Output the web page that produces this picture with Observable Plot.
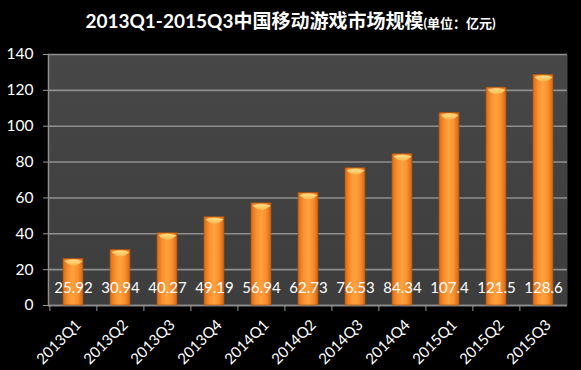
<!DOCTYPE html>
<html><head><meta charset="utf-8">
<script src="https://cdn.jsdelivr.net/npm/d3@7"></script>
<script src="https://cdn.jsdelivr.net/npm/@observablehq/plot@0.6"></script>
<style>
html,body{margin:0;padding:0;background:#000;}
body{width:581px;height:370px;overflow:hidden;}
#title{height:40px;line-height:42px;text-align:center;color:#fff;font-weight:bold;font-family:Lato,"Noto Sans CJK SC",sans-serif;font-size:19px;white-space:nowrap;}
#title span{font-size:13px;}
#chart svg{display:block;}
</style></head><body>
<div id="title">2013Q1-2015Q3中国移动游戏市场规模<span>(单位：亿元)</span></div>
<div id="chart"></div>
<script>
const quarters = ["2013Q1","2013Q2","2013Q3","2013Q4","2014Q1","2014Q2","2014Q3","2014Q4","2015Q1","2015Q2","2015Q3"];
const values = [25.92, 30.94, 40.27, 49.19, 56.94, 62.73, 76.53, 84.34, 107.4, 121.5, 128.6];
const valueLabels = ["25.92","30.94","40.27","49.19","56.94","62.73","76.53","84.34","107.4","121.5","128.6"];
const yTicks = [0, 20, 40, 60, 80, 100, 120, 140];

const data = quarters.map((q, i) => ({q, v: values[i], label: valueLabels[i]}));

const lens = {
  draw(ctx) {
    ctx.moveTo(-9, 0);
    ctx.quadraticCurveTo(0, -3, 9, 0);
    ctx.quadraticCurveTo(0, 9, -9, 0);
    ctx.closePath();
  }
};

const font = "Lato, 'Noto Sans CJK SC', sans-serif";
const chart = Plot.plot({
  width: 581, height: 330,
  marginTop: 14, marginBottom: 65, marginLeft: 48, marginRight: 14,
  style: {background: "transparent", color: "#fff", fontFamily: font, fontSize: "14px"},
  x: {domain: quarters, paddingInner: 0.58, paddingOuter: 0.29, label: null},
  y: {domain: [0, 140], label: null},
  marks: [
    Plot.frame({fill: "url(#plotBg)", stroke: null}),
    Plot.gridY(yTicks, {stroke: "#8f8f8f", strokeOpacity: 1, strokeWidth: 1.6}),
    Plot.frame({anchor: "left", stroke: "#8f8f8f", strokeWidth: 1.5}),
    Plot.ruleY([0], {stroke: "#8f8f8f", strokeWidth: 1.5}),
    Plot.axisY(yTicks, {tickSize: 5, tickPadding: 10, stroke: "#999", fill: "#fff", fontSize: 15.5, label: null}),
    Plot.barY(data, {x: "q", y: "v", fill: "url(#barGrad)", stroke: "#a5520f", strokeWidth: 0.7}),
    Plot.dot(data, {x: "q", y: "v", symbol: lens, fill: "url(#capGrad)", stroke: null, dy: 2}),
    Plot.text(data, {x: "q", y: 0, text: "label", dy: -17, fill: "#fff", fontSize: 15}),
    Plot.axisX({tickSize: 0, tickRotate: -45, tickPadding: 17, dx: 5, fill: "#fff", fontSize: 15, label: null}),
    Plot.axisX({tickSize: 6, tickFormat: () => "", dx: -23.6, stroke: "#999", label: null})
  ]
});

const ns = "http://www.w3.org/2000/svg";
const defs = document.createElementNS(ns, "defs");
defs.innerHTML = `
<linearGradient id="barGrad" x1="0" x2="1" y1="0" y2="0">
  <stop offset="0" stop-color="#d66d1c"/>
  <stop offset="0.25" stop-color="#fa8f2c"/>
  <stop offset="0.5" stop-color="#ffa240"/>
  <stop offset="0.75" stop-color="#fa8f2c"/>
  <stop offset="1" stop-color="#d0661a"/>
</linearGradient>
<linearGradient id="capGrad" x1="0" x2="0" y1="0" y2="1">
  <stop offset="0" stop-color="#ffe08a"/>
  <stop offset="1" stop-color="#ffb54a"/>
</linearGradient>
<linearGradient id="plotBg" x1="0" x2="0" y1="0" y2="1">
  <stop offset="0" stop-color="#474747"/>
  <stop offset="1" stop-color="#3d3d3d"/>
</linearGradient>`;
chart.insertBefore(defs, chart.firstChild);
document.getElementById("chart").appendChild(chart);
</script>
</body></html>
